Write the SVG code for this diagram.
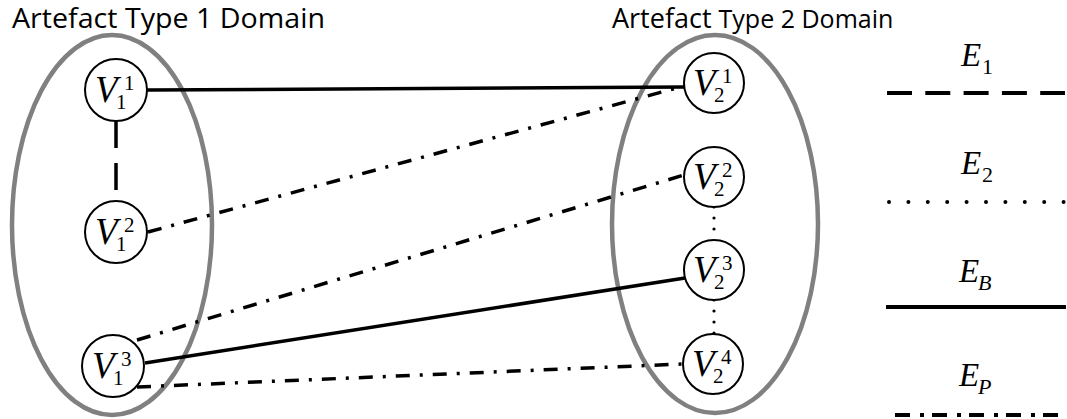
<svg xmlns="http://www.w3.org/2000/svg" width="1067" height="419" viewBox="0 0 1067 419">
<style>
.title{font-family:"Open Sans","Liberation Sans",sans-serif;font-size:27px;fill:#000}
.dom{fill:none;stroke:#808080;stroke-width:4.5}
.node{fill:#fff;stroke:#000;stroke-width:2}
.v{font-family:"Liberation Serif",serif;font-style:italic;font-size:37px;fill:#000}
.d{font-family:"Liberation Serif",serif;font-size:21px;fill:#000}
.e{font-family:"Liberation Serif",serif;font-style:italic;font-size:33px;fill:#000}
.ds{font-family:"Liberation Serif",serif;font-size:22px;fill:#000}
.dsi{font-family:"Liberation Serif",serif;font-style:italic;font-size:22px;fill:#000}
.solid{stroke:#000;stroke-width:3.5;fill:none}
.dash{stroke:#000;stroke-width:3.5;fill:none;stroke-dasharray:27 15}
.dot{stroke:#000;stroke-width:3.2;fill:none;stroke-dasharray:0 11;stroke-linecap:round}
.dd{stroke:#000;stroke-width:3.5;fill:none;stroke-dasharray:14 10 3 10}
</style>
<text class="title" x="12" y="28" textLength="313" lengthAdjust="spacingAndGlyphs">Artefact Type 1 Domain</text>
<text class="title" x="612" y="28">Artefact <tspan font-size="25">Type 2 Domain</tspan></text>
<g id="domain1"><ellipse class="dom" cx="112" cy="225" rx="100" ry="190"/></g>
<g id="domain2"><ellipse class="dom" cx="715" cy="224" rx="103" ry="189"/></g>
<g id="connectors">
<line class="solid" x1="147" y1="90" x2="684" y2="87"/>
<line class="dash" x1="116" y1="121" x2="116" y2="201"/>
<line class="dd" x1="148" y1="232" x2="684" y2="86"/>
<line class="dd" x1="137" y1="340" x2="684" y2="175"/>
<line class="solid" x1="145" y1="363" x2="685" y2="278"/>
<line class="dd" x1="137" y1="387" x2="683" y2="364"/>
<line class="dot" x1="714" y1="207" x2="714" y2="240"/>
<line class="dot" x1="714" y1="300" x2="714" y2="334"/>
</g>
<g id="V1_1"><circle class="node" cx="116" cy="90" r="31"/><text class="v" x="95" y="102">V</text><text class="d" x="116" y="109">1</text><text class="d" x="124" y="90">1</text></g>
<g id="V1_2"><circle class="node" cx="116" cy="232" r="31"/><text class="v" x="95" y="244">V</text><text class="d" x="116" y="251">1</text><text class="d" x="124" y="232">2</text></g>
<g id="V1_3"><circle class="node" cx="113" cy="366" r="31"/><text class="v" x="92" y="378">V</text><text class="d" x="113" y="385">1</text><text class="d" x="121" y="366">3</text></g>
<g id="V2_1"><circle class="node" cx="714" cy="83" r="30"/><text class="v" x="693" y="95">V</text><text class="d" x="714" y="102">2</text><text class="d" x="722" y="83">1</text></g>
<g id="V2_2"><circle class="node" cx="714" cy="177" r="30"/><text class="v" x="693" y="189">V</text><text class="d" x="714" y="196">2</text><text class="d" x="722" y="177">2</text></g>
<g id="V2_3"><circle class="node" cx="714" cy="270" r="30"/><text class="v" x="693" y="282">V</text><text class="d" x="714" y="289">2</text><text class="d" x="722" y="270">3</text></g>
<g id="V2_4"><circle class="node" cx="713" cy="364" r="30"/><text class="v" x="692" y="376">V</text><text class="d" x="713" y="383">2</text><text class="d" x="721" y="364">4</text></g>
<g id="legend">
<text class="e" x="961" y="66">E</text><text class="ds" x="982" y="74">1</text>
<line x1="887" y1="93" x2="1065" y2="93" stroke="#000" stroke-width="4" stroke-dasharray="25 13.3"/>
<text class="e" x="961" y="174">E</text><text class="ds" x="982" y="182">2</text>
<line x1="889" y1="202" x2="1064" y2="202" stroke="#000" stroke-width="4" stroke-dasharray="0 19.4" stroke-linecap="round"/>
<text class="e" x="959" y="282">E</text><text class="dsi" x="978" y="290">B</text>
<line x1="886" y1="307" x2="1066" y2="307" stroke="#000" stroke-width="4"/>
<text class="e" x="959" y="386">E</text><text class="dsi" x="978" y="394">P</text>
<line x1="895" y1="415" x2="1065" y2="415" stroke="#000" stroke-width="4" stroke-dasharray="15 10 4 8"/>
</g>
</svg>
